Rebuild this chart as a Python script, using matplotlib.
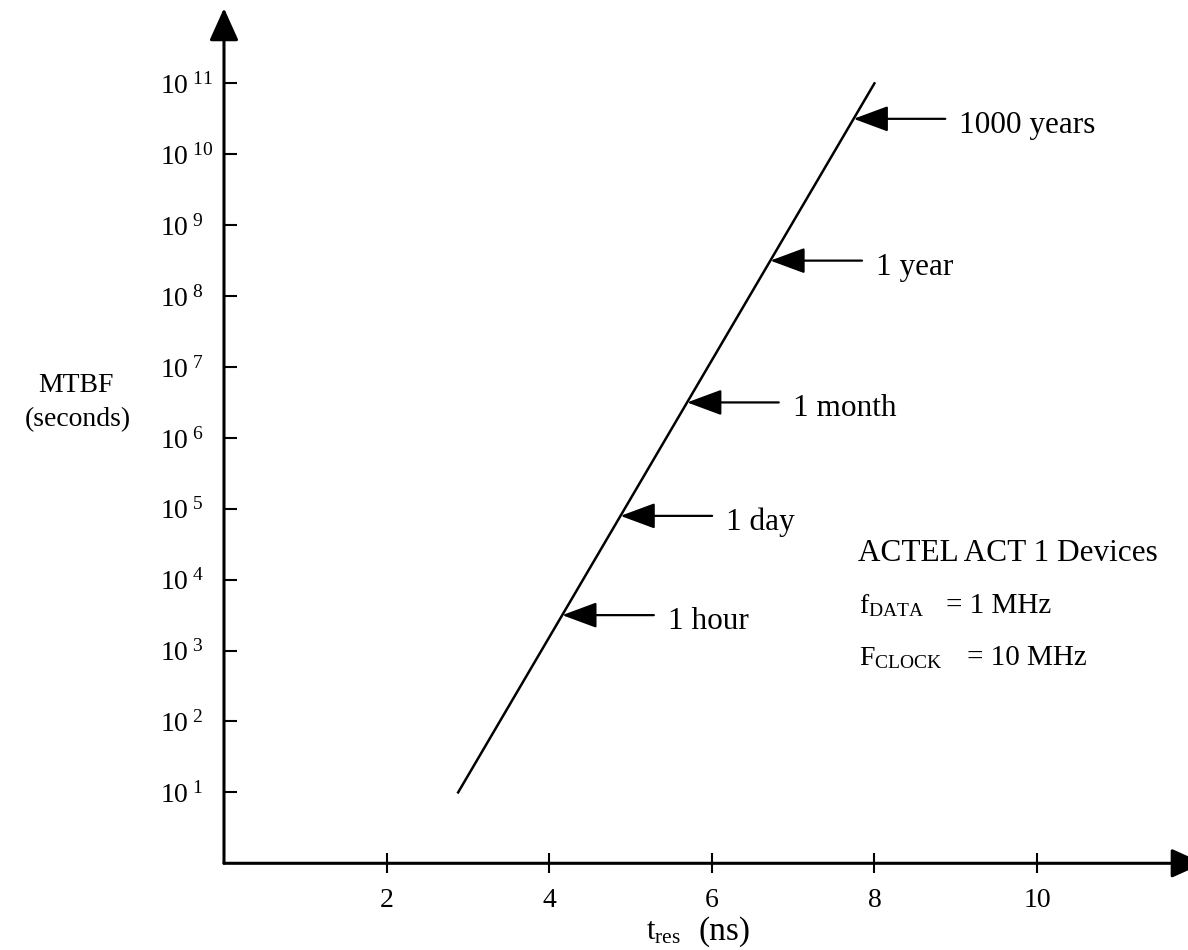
import numpy as np
import matplotlib
matplotlib.use("Agg")
import matplotlib.pyplot as plt

plt.rcParams['font.family'] = 'Liberation Serif'
plt.rcParams['mathtext.fontset'] = 'custom'
plt.rcParams['mathtext.rm'] = 'Liberation Serif'
plt.rcParams['mathtext.it'] = 'Liberation Serif:italic'

# Curva MTBF (tiempo de resolución en ns, MTBF en segundos)
t_res = [2.88, 8.0]
mtbf = [1e1, 1e11]

# Marcas de referencia sobre la curva
mark_labels = ['1 hour', '1 day', '1 month', '1 year', '1000 years']
mark_mtbf = [10**3.5, 10**4.9, 10**6.5, 10**8.5, 10**10.5]

x_ticks = [2, 4, 6, 8, 10]
y_exps = [1, 2, 3, 4, 5, 6, 7, 8, 9, 10, 11]

W, H = 1188, 950
fig = plt.figure(figsize=(W / 100, H / 100), dpi=100)
ax = fig.add_axes([0, 0, 1, 1])
ax.set_yscale('log')
ax.set_xlim(-2.755, 11.857)
ax.set_ylim(10**-1.223, 10**12.176)
ax.patch.set_visible(False)

for s in ['top', 'right']:
    ax.spines[s].set_visible(False)
ax.spines['left'].set_position(('data', 0))
ax.spines['bottom'].set_position(('data', 1))
ax.spines['left'].set_visible(False)
ax.spines['bottom'].set_visible(False)

# ejes con flecha
head = '-|>,head_length=1.0,head_width=0.45'
ax.annotate('', xy=(0, 10**12.06), xytext=(0, 1), annotation_clip=False,
            arrowprops=dict(arrowstyle=head, color='black', lw=2.2,
                            shrinkA=0, shrinkB=0, mutation_scale=20))
ax.annotate('', xy=(12.05, 1), xytext=(0, 1), annotation_clip=False,
            arrowprops=dict(arrowstyle=head, color='black', lw=2.2,
                            shrinkA=0, shrinkB=0, mutation_scale=20))

ax.set_xticks(x_ticks)
ax.set_xticklabels([str(v) for v in x_ticks])
ax.set_yticks([10.0**e for e in y_exps])
ax.set_yticklabels([r'$\mathregular{10^{\ %d}}$' % e for e in y_exps])
ax.minorticks_off()
ax.tick_params(axis='x', direction='inout', length=14, width=1.5,
               labelsize=20, pad=11)
ax.tick_params(axis='y', direction='in', length=9, width=1.5,
               labelsize=20, pad=46)
plt.setp(ax.get_yticklabels(), ha='left')

# línea principal
ax.plot(t_res, mtbf, color='black', lw=1.8)

# flechas hacia la línea
tips = np.interp(np.log10(mark_mtbf), np.log10(mtbf), t_res)
for lab, v, tx in zip(mark_labels, mark_mtbf, tips):
    ax.annotate('', xy=(tx, v), xytext=(66, 0), textcoords='offset points',
                arrowprops=dict(arrowstyle='-|>,head_length=1.08,head_width=0.4',
                                color='black', lw=1.6, shrinkA=0, shrinkB=0,
                                mutation_scale=20))
    ax.annotate(lab, xy=(tx, v), xytext=(76, -10), textcoords='offset points',
                fontsize=22.5, va='baseline', ha='left')


def px(x, y):
    return x / W, 1 - y / H


# etiquetas de ejes
fig.text(*px(76, 392), 'MTBF', fontsize=20, ha='center', va='baseline')
fig.text(*px(78, 426), '(seconds)', fontsize=20, ha='center', va='baseline')
fig.text(*px(646, 940), r'$\mathregular{t_{res}}$', fontsize=22, va='baseline')
fig.text(*px(698, 940), '(ns)', fontsize=24, va='baseline')

# texto de condiciones
fig.text(*px(858, 561), 'ACTEL ACT 1 Devices', fontsize=22.5, va='baseline')
fig.text(*px(859, 613), r'$\mathregular{f_{DATA}}$', fontsize=20, va='baseline')
fig.text(*px(946, 613), '= 1 MHz', fontsize=21, va='baseline')
fig.text(*px(859, 665), r'$\mathregular{F_{CLOCK}}$', fontsize=20, va='baseline')
fig.text(*px(967, 665), '= 10 MHz', fontsize=21, va='baseline')

fig.savefig('out.png', dpi=100)
